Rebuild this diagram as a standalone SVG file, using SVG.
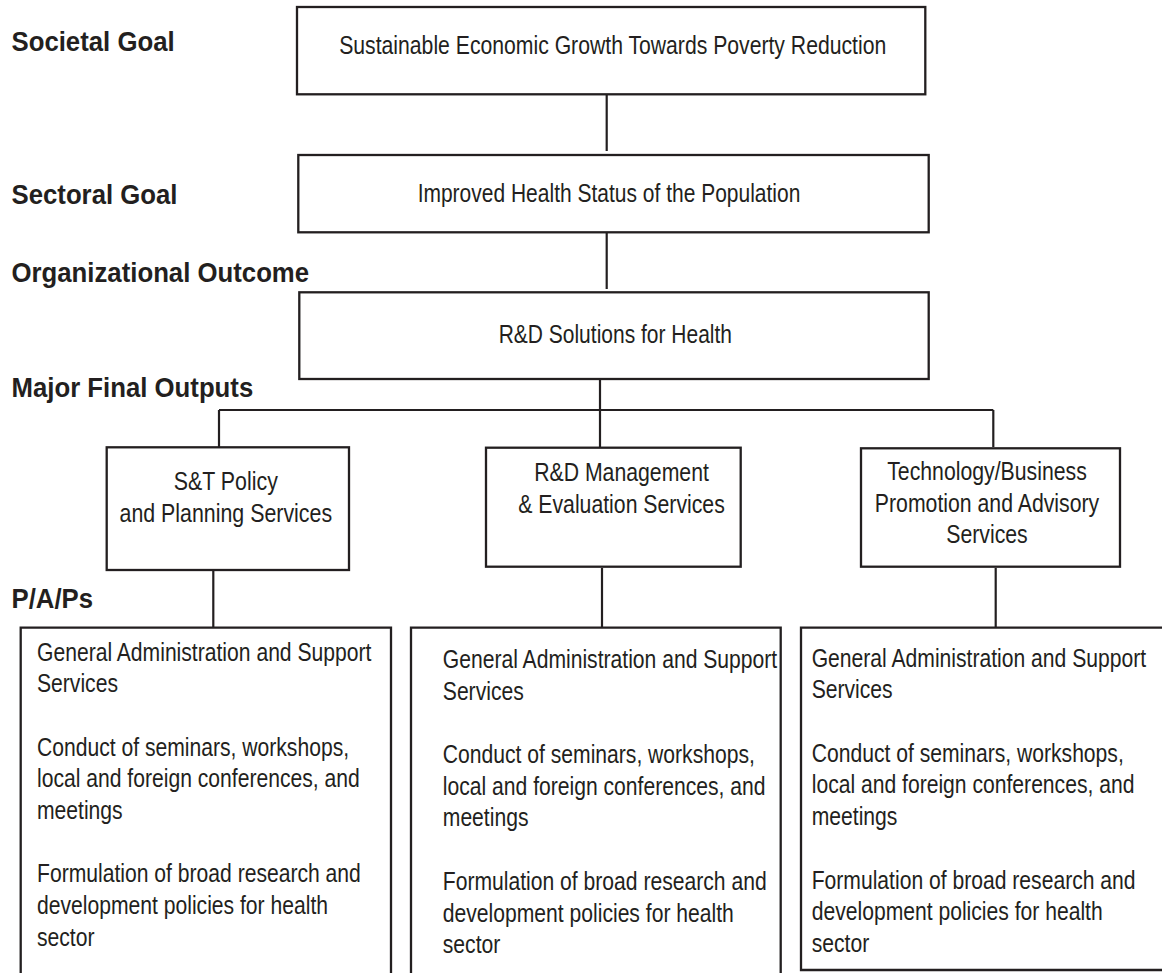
<svg xmlns="http://www.w3.org/2000/svg" width="1162" height="973" viewBox="0 0 1162 973">
<style>
.bg{fill:#ffffff}
.box{fill:#ffffff;stroke:#231f20;stroke-width:2.3}
.ln{fill:none;stroke:#231f20;stroke-width:2.2}
.t{font-family:"Liberation Sans",Arial,sans-serif;font-size:25px;fill:#231f20}
.b{font-family:"Liberation Sans",Arial,sans-serif;font-size:28px;font-weight:bold;fill:#231f20}
.c{text-anchor:middle}
</style>
<rect class="bg" x="0" y="0" width="1162" height="973"/>
<g id="labels">
<text class="b" transform="translate(11.5,51) scale(0.92,1)">Societal Goal</text>
<text class="b" transform="translate(11.5,204) scale(0.92,1)">Sectoral Goal</text>
<text class="b" transform="translate(11.5,282) scale(0.92,1)">Organizational Outcome</text>
<text class="b" transform="translate(11.5,397) scale(0.92,1)">Major Final Outputs</text>
<text class="b" transform="translate(11.5,608) scale(0.92,1)">P/A/Ps</text>
</g>
<g id="connectors">
<line class="ln" x1="606.7" y1="94" x2="606.7" y2="151"/>
<line class="ln" x1="606.7" y1="230" x2="606.7" y2="289"/>
<line class="ln" x1="600" y1="377" x2="600" y2="447"/>
<line class="ln" x1="219" y1="410" x2="993.3" y2="410"/>
<line class="ln" x1="219" y1="410" x2="219" y2="447"/>
<line class="ln" x1="993.3" y1="410" x2="993.3" y2="447"/>
<line class="ln" x1="213.3" y1="567" x2="213.3" y2="628"/>
<line class="ln" x1="602" y1="568" x2="602" y2="628"/>
<line class="ln" x1="995.7" y1="568" x2="995.7" y2="628"/>
</g>
<g id="societal">
<rect class="box" x="297" y="7" width="628.3" height="87.3"/>
<text class="t c" transform="translate(612.7,54) scale(0.848,1)">Sustainable Economic Growth Towards Poverty Reduction</text>
</g>
<g id="sectoral">
<rect class="box" x="298.3" y="155" width="630.4" height="77.3"/>
<text class="t c" transform="translate(609,202.3) scale(0.84,1)">Improved Health Status of the Population</text>
</g>
<g id="outcome">
<rect class="box" x="299.3" y="292.3" width="629.4" height="86.7"/>
<text class="t c" transform="translate(615.3,343.3) scale(0.84,1)">R&amp;D Solutions for Health</text>
</g>
<g id="mfo1">
<rect class="box" x="106.7" y="447.3" width="242.3" height="122.7"/>
<text class="t c" transform="translate(225.8,490) scale(0.855,1)"><tspan x="0" y="0">S&amp;T Policy</tspan><tspan x="0" y="31.7">and Planning Services</tspan></text>
</g>
<g id="mfo2">
<rect class="box" x="486" y="447.7" width="254.7" height="119"/>
<text class="t c" transform="translate(621.5,481) scale(0.85,1)"><tspan x="0" y="0">R&amp;D Management</tspan><tspan x="0" y="31.7">&amp; Evaluation Services</tspan></text>
</g>
<g id="mfo3">
<rect class="box" x="861" y="448.3" width="259" height="118.4"/>
<text class="t c" transform="translate(987,480) scale(0.85,1)"><tspan x="0" y="0">Technology/Business</tspan><tspan x="0" y="31.7">Promotion and Advisory</tspan><tspan x="0" y="63.4">Services</tspan></text>
</g>
<g id="pap1">
<path class="box" d="M20.7,990 V627.7 H391 V990"/>
<text class="t" transform="translate(37,660.5) scale(0.845,1)"><tspan x="0" y="0">General Administration and Support</tspan><tspan x="0" y="31.7">Services</tspan><tspan x="0" y="95.1">Conduct of seminars, workshops,</tspan><tspan x="0" y="126.8">local and foreign conferences, and</tspan><tspan x="0" y="158.5">meetings</tspan><tspan x="0" y="221.9">Formulation of broad research and</tspan><tspan x="0" y="253.6">development policies for health</tspan><tspan x="0" y="285.3">sector</tspan></text>
</g>
<g id="pap2">
<path class="box" d="M411,990 V627.7 H780.7 V990"/>
<text class="t" transform="translate(442.8,668) scale(0.845,1)"><tspan x="0" y="0">General Administration and Support</tspan><tspan x="0" y="31.7">Services</tspan><tspan x="0" y="95.1">Conduct of seminars, workshops,</tspan><tspan x="0" y="126.8">local and foreign conferences, and</tspan><tspan x="0" y="158.5">meetings</tspan><tspan x="0" y="221.9">Formulation of broad research and</tspan><tspan x="0" y="253.6">development policies for health</tspan><tspan x="0" y="285.3">sector</tspan></text>
</g>
<g id="pap3">
<path class="box" d="M1170,627.7 H801 V970 H1170"/>
<text class="t" transform="translate(811.7,666.7) scale(0.845,1)"><tspan x="0" y="0">General Administration and Support</tspan><tspan x="0" y="31.7">Services</tspan><tspan x="0" y="95.1">Conduct of seminars, workshops,</tspan><tspan x="0" y="126.8">local and foreign conferences, and</tspan><tspan x="0" y="158.5">meetings</tspan><tspan x="0" y="221.9">Formulation of broad research and</tspan><tspan x="0" y="253.6">development policies for health</tspan><tspan x="0" y="285.3">sector</tspan></text>
</g>
</svg>
